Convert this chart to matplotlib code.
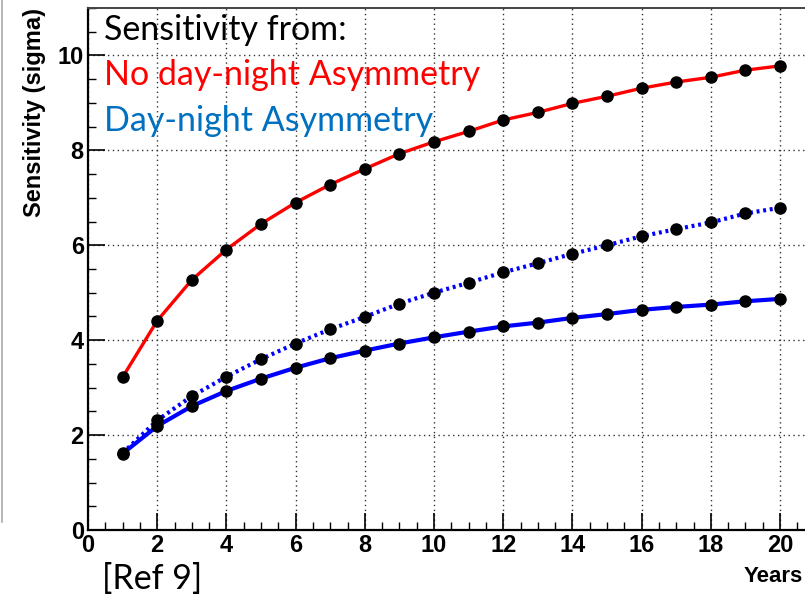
import matplotlib
matplotlib.use("Agg")
import matplotlib.pyplot as plt
from matplotlib.ticker import MultipleLocator
from matplotlib.lines import Line2D

years = list(range(1, 21))
no_dn_asym = [3.22, 4.41, 5.27, 5.91, 6.45, 6.90, 7.28, 7.61, 7.93, 8.18,
              8.40, 8.64, 8.80, 8.99, 9.14, 9.31, 9.44, 9.54, 9.69, 9.78]
dn_asym_dotted = [1.62, 2.31, 2.82, 3.23, 3.60, 3.93, 4.23, 4.49, 4.77, 5.00,
                  5.21, 5.43, 5.62, 5.82, 6.00, 6.19, 6.34, 6.48, 6.67, 6.79]
dn_asym_solid = [1.61, 2.19, 2.61, 2.93, 3.19, 3.42, 3.62, 3.78, 3.93, 4.06,
                 4.18, 4.29, 4.37, 4.47, 4.55, 4.64, 4.70, 4.75, 4.82, 4.87]
x_ticks = list(range(0, 21, 2))
y_ticks = list(range(0, 11, 2))

W, H = 805, 597
fig = plt.figure(figsize=(W / 100, H / 100), dpi=100)
ax_l, ax_b, ax_t = 88, 530, 8
ax_w = 21 * 34.6
ax = fig.add_axes([ax_l / W, (H - ax_b) / H, ax_w / W, (ax_b - ax_t) / H])

ax.set_xlim(0, 21)
ax.set_ylim(0, 11)
ax.set_xticks(x_ticks)
ax.set_yticks(y_ticks)
ax.xaxis.set_minor_locator(MultipleLocator(0.5))
ax.yaxis.set_minor_locator(MultipleLocator(0.5))
ax.tick_params(which='major', direction='in', length=12, width=1.2, top=False, right=False,
               labelsize=17, pad=3)
ax.tick_params(which='minor', direction='in', length=6, width=1.0, top=False, right=False)
for lab in ax.get_xticklabels() + ax.get_yticklabels():
    lab.set_fontfamily('Liberation Sans')
    lab.set_fontweight('bold')

ax.grid(True, which='major', linestyle=(0, (1, 2.5)), color='#333333', linewidth=1.0)
ax.set_axisbelow(True)
for s in ['left', 'bottom']:
    ax.spines[s].set_linewidth(1.6)
    ax.spines[s].set_color('black')
ax.spines['top'].set_linewidth(1.4)
ax.spines['top'].set_color('#444444')
ax.spines['right'].set_visible(False)

ax.plot(years, no_dn_asym, color='#FF0000', lw=2.4, zorder=3)
ax.plot(years, dn_asym_dotted, color='#0000FF', lw=3.0, linestyle=(0, (0.7, 0.9)), zorder=3)
ax.plot(years, dn_asym_solid, color='#0000FF', lw=3.0, zorder=3)
for ys in (no_dn_asym, dn_asym_dotted, dn_asym_solid):
    ax.plot(years, ys, linestyle='none', marker='o', ms=8, color='black', zorder=4)

ax.set_ylabel('Sensitivity (sigma)', loc='top', fontsize=17, fontweight='bold',
              fontfamily='Liberation Sans', labelpad=8)
fig.text(803 / W, 1 - 582 / H, 'Years', ha='right', va='baseline', fontsize=16,
         fontweight='bold', family='Liberation Sans')

fam = ['Lato', 'DejaVu Sans']
fig.text(104 / W, 1 - 40 / H, 'Sensitivity from:', color='black', fontsize=24.5, family=fam, va='baseline')
fig.text(104 / W, 1 - 85 / H, 'No day-night Asymmetry', color='#FF0000', fontsize=24.5, family=fam, va='baseline')
fig.text(104 / W, 1 - 131 / H, 'Day-night Asymmetry', color='#0070C0', fontsize=24.5, family=fam, va='baseline')
fig.text(102 / W, 1 - 589 / H, '[Ref 9]', color='black', fontsize=24.5, family=fam, va='baseline')

fig.add_artist(Line2D([2 / W, 2 / W], [1 - 0 / H, 1 - 522 / H], transform=fig.transFigure,
                      color='#aaaaaa', lw=1.2))

fig.savefig('out.png', dpi=100)
